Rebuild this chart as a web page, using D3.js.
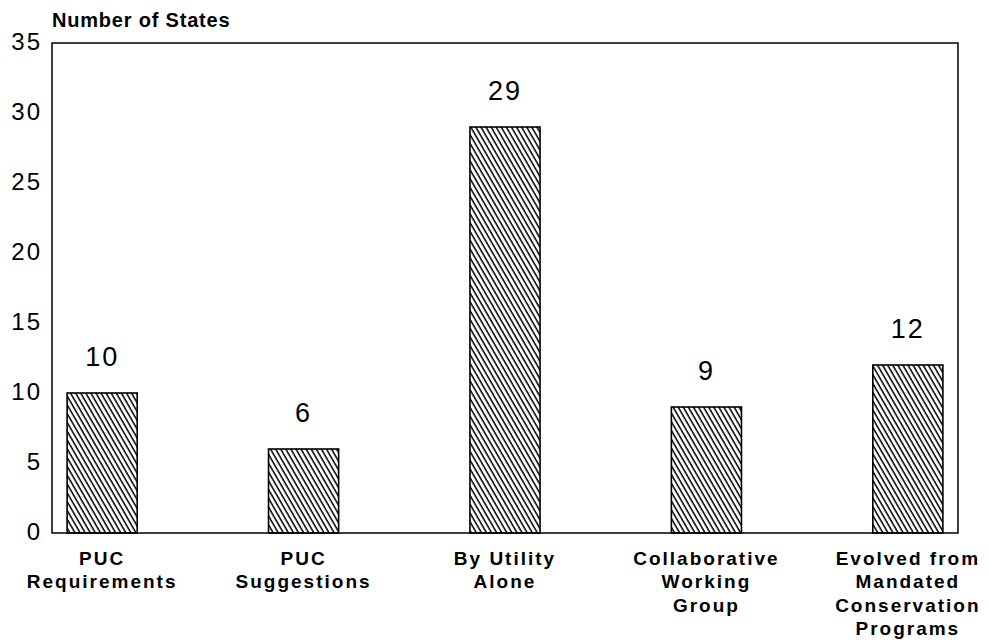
<!DOCTYPE html>
<html>
<head>
<meta charset="utf-8">
<script src="https://cdn.jsdelivr.net/npm/d3@7"></script>
<style>
  html, body { margin: 0; padding: 0; background: #fff; }
  svg { display: block; font-family: "Liberation Sans", Arial, Helvetica, sans-serif; }
</style>
</head>
<body>
<svg id="chart" width="988" height="644"></svg>
<script>
// ---- data ----
const categories = [
  ["PUC", "Requirements"],
  ["PUC", "Suggestions"],
  ["By Utility", "Alone"],
  ["Collaborative", "Working", "Group"],
  ["Evolved from", "Mandated", "Conservation", "Programs"]
];
const values = [10, 6, 29, 9, 12];
const yTicks = [0, 5, 10, 15, 20, 25, 30, 35];
const yTitle = "Number of States";

// ---- layout ----
const plotLeft = 52, plotRight = 958, plotTop = 43, plotBottom = 533;

const svg = d3.select("#chart");

const keys = categories.map((c, i) => i);
const x = d3.scaleBand()
  .domain(keys)
  .range([plotLeft, plotRight])
  .paddingInner(0.652)
  .paddingOuter(0.075);

const y = d3.scaleLinear().domain([0, 35]).range([plotBottom, plotTop]);

// hatch pattern
const defs = svg.append("defs");
const pat = defs.append("pattern")
  .attr("id", "hatch")
  .attr("patternUnits", "userSpaceOnUse")
  .attr("width", 4.4)
  .attr("height", 10)
  .attr("patternTransform", "rotate(-30)");
pat.append("line")
  .attr("x1", 1).attr("y1", -2).attr("x2", 1).attr("y2", 12)
  .attr("stroke", "#000").attr("stroke-width", 1.5);

// frame
svg.append("rect")
  .attr("x", plotLeft).attr("y", plotTop)
  .attr("width", plotRight - plotLeft).attr("height", plotBottom - plotTop)
  .attr("fill", "none").attr("stroke", "#000").attr("stroke-width", 1.5);

// y axis
const yAxis = svg.append("g")
  .attr("transform", `translate(${plotLeft},0)`)
  .call(d3.axisLeft(y).tickValues(yTicks).tickSize(0).tickPadding(10));
yAxis.select(".domain").remove();
yAxis.selectAll("text")
  .attr("font-size", 24)
  .attr("font-family", "'Liberation Sans', Arial, sans-serif")
  .attr("fill", "#000")
  .attr("letter-spacing", 2)
  .attr("dy", "0.25em");

// title
svg.append("text")
  .attr("x", plotLeft).attr("y", 27)
  .attr("font-size", 20).attr("font-weight", "bold")
  .attr("letter-spacing", 0.8)
  .text(yTitle);

// bars
svg.append("g").selectAll("rect")
  .data(values)
  .join("rect")
  .attr("x", (d, i) => x(i))
  .attr("y", d => y(d))
  .attr("width", x.bandwidth())
  .attr("height", d => y(0) - y(d))
  .attr("fill", "url(#hatch)")
  .attr("stroke", "#000")
  .attr("stroke-width", 1.6);

// value labels
svg.append("g").selectAll("text")
  .data(values)
  .join("text")
  .attr("x", (d, i) => x(i) + x.bandwidth() / 2)
  .attr("y", d => y(d) - 27)
  .attr("text-anchor", "middle")
  .attr("font-size", 27)
  .attr("letter-spacing", 2)
  .text(d => d);

// category labels
const cg = svg.append("g").selectAll("text")
  .data(categories)
  .join("text")
  .attr("x", (d, i) => x(i) + x.bandwidth() / 2)
  .attr("y", 565)
  .attr("text-anchor", "middle")
  .attr("font-size", 19)
  .attr("font-weight", "bold")
  .attr("letter-spacing", 2);
cg.each(function(d, i) {
  const t = d3.select(this);
  d.forEach((line, j) => {
    t.append("tspan")
      .attr("x", x(i) + x.bandwidth() / 2)
      .attr("dy", j === 0 ? 0 : 23.3)
      .text(line);
  });
});
</script>
</body>
</html>
